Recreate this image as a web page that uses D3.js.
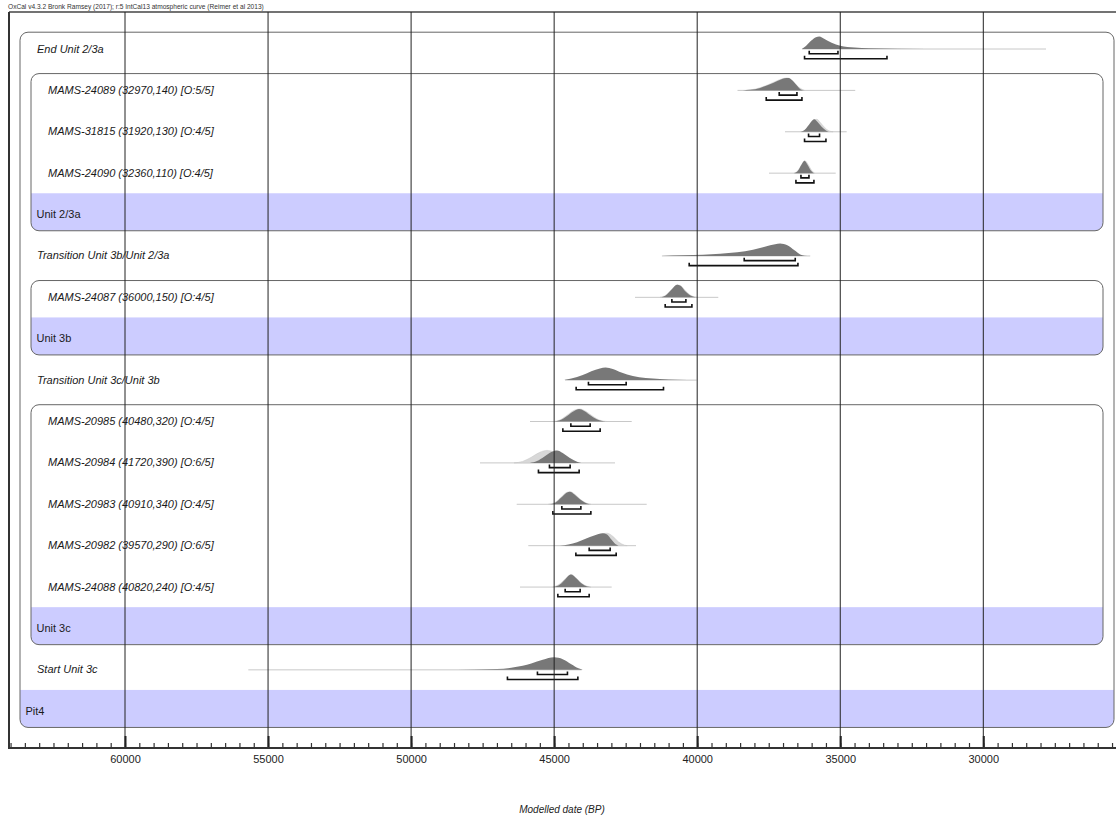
<!DOCTYPE html>
<html><head><meta charset="utf-8">
<script src="https://cdn.jsdelivr.net/npm/d3@7"></script>
<style>
html,body{margin:0;padding:0;background:#fff;}
svg{display:block;font-family:"Liberation Sans",Arial,sans-serif;}
</style></head><body>
<svg id="chart" width="1116" height="819"></svg>
<script>
// ---- model rows, top to bottom ----
const rowLabels = [
  "End Unit 2/3a",
  "MAMS-24089 (32970,140) [O:5/5]",
  "MAMS-31815 (31920,130) [O:4/5]",
  "MAMS-24090 (32360,110) [O:4/5]",
  "Unit 2/3a",
  "Transition Unit 3b/Unit 2/3a",
  "MAMS-24087 (36000,150) [O:4/5]",
  "Unit 3b",
  "Transition Unit 3c/Unit 3b",
  "MAMS-20985 (40480,320) [O:4/5]",
  "MAMS-20984 (41720,390) [O:6/5]",
  "MAMS-20983 (40910,340) [O:4/5]",
  "MAMS-20982 (39570,290) [O:6/5]",
  "MAMS-24088 (40820,240) [O:4/5]",
  "Unit 3c",
  "Start Unit 3c",
  "Pit4"
];
const rowKinds = ["boundary","date","date","date","phase","boundary","date","phase",
  "boundary","date","date","date","date","date","phase","boundary","sequence"];

// nested groups (sequence / phases): first and last row index
const groupNames = ["Pit4", "Unit 2/3a", "Unit 3b", "Unit 3c"];
const groupFirst = [0, 1, 6, 9];
const groupLast  = [16, 4, 7, 14];
const groupDepth = [0, 1, 1, 1];

// full extent of each distribution (cal BP)
const spans = [
  [36339, 27808], [38591, 34476], [36931, 34775], [37490, 35159], null,
  [41234, 36049], [42174, 39263], null,
  [44621, 40018], [45844, 42289], [47592, 42873], [46309, 41765], [45904, 42139], [46194, 42989], null,
  [55690, 44037], null
];

// 68.2% and 95.4% highest posterior density ranges (cal BP)
const ranges68 = [
  [36084, 35080], [37133, 36514], [36108, 35724], [36374, 36094], null,
  [38357, 36573], [40885, 40395], null,
  [43801, 42483], [44416, 43741], [45164, 44441], [44731, 44066], [43776, 43042], [44615, 44091], null,
  [45584, 44535], null
];
const ranges95 = [
  [36248, 33367], [37587, 36339], [36248, 35500], [36549, 35920], null,
  [40280, 36479], [41119, 40185], null,
  [44231, 41178], [44696, 43392], [45549, 44126], [45045, 43717], [44241, 42832], [44871, 43776], null,
  [46633, 44171], null
];

// modelled (posterior) densities: [cal BP, relative density]
const posteriors = [
  [[36339,0],[36200,0.25],[36000,0.7],[35850,0.95],[35734,1],[35550,0.8],[35300,0.5],[35000,0.27],[34500,0.12],[34000,0.06],[33000,0.03],[31000,0.01],[27808,0]],
  [[38400,0],[38150,0.05],[37800,0.2],[37500,0.45],[37200,0.75],[36950,0.97],[36808,1],[36650,0.75],[36500,0.35],[36380,0.08],[36250,0]],
  [[36400,0],[36250,0.15],[36100,0.55],[35950,0.97],[35900,1],[35800,0.8],[35650,0.4],[35500,0.1],[35400,0]],
  [[36600,0],[36480,0.2],[36350,0.7],[36250,1],[36150,0.7],[36020,0.2],[35920,0]],
  null,
  [[41230,0],[40500,0.05],[39800,0.1],[39200,0.18],[38600,0.3],[38050,0.5],[37700,0.7],[37450,0.85],[37100,1],[36850,0.85],[36600,0.45],[36400,0.12],[36250,0.02],[36050,0]],
  [[41250,0],[41100,0.15],[40900,0.6],[40700,1],[40600,0.95],[40400,0.45],[40200,0.1],[40050,0]],
  null,
  [[44650,0],[44400,0.12],[44000,0.4],[43700,0.7],[43400,0.93],[43200,1],[42950,0.88],[42650,0.6],[42250,0.32],[41800,0.17],[41300,0.09],[40700,0.03],[40000,0]],
  [[45000,0],[44800,0.1],[44550,0.45],[44300,0.85],[44130,1],[43950,0.85],[43700,0.45],[43450,0.12],[43200,0]],
  [[45850,0],[45600,0.15],[45350,0.5],[45100,0.88],[44900,1],[44700,0.8],[44450,0.4],[44200,0.1],[44050,0]],
  [[45150,0],[44950,0.15],[44750,0.55],[44550,0.95],[44450,1],[44300,0.8],[44100,0.4],[43900,0.1],[43750,0]],
  [[44800,0],[44500,0.1],[44200,0.28],[43900,0.55],[43600,0.82],[43300,1],[43150,0.9],[43000,0.5],[42850,0.12],[42750,0]],
  [[45000,0],[44800,0.2],[44600,0.65],[44420,1],[44250,0.75],[44050,0.3],[43850,0.05],[43750,0]],
  null,
  [[55690,0],[52000,0.005],[49000,0.01],[47800,0.03],[47000,0.07],[46500,0.17],[46100,0.32],[45800,0.5],[45400,0.8],[45000,1],[44700,0.85],[44400,0.45],[44150,0.12],[44000,0]],
  null
];

// unmodelled (calibrated date) densities: [cal BP, relative density]
const likelihoods = [
  null,
  [[38300,0],[37950,0.12],[37600,0.38],[37300,0.68],[37000,0.95],[36850,1],[36650,0.7],[36450,0.25],[36250,0]],
  [[36350,0],[36200,0.15],[36050,0.5],[35900,0.95],[35820,1],[35700,0.75],[35550,0.35],[35400,0.08],[35250,0]],
  [[36620,0],[36480,0.2],[36350,0.68],[36240,1],[36130,0.72],[36000,0.22],[35900,0]],
  null, null,
  [[41300,0],[41100,0.17],[40900,0.62],[40700,1],[40580,0.93],[40380,0.45],[40180,0.1],[40000,0]],
  null, null,
  [[45050,0],[44800,0.12],[44550,0.5],[44300,0.9],[44100,1],[43900,0.82],[43650,0.42],[43400,0.1],[43150,0]],
  [[46400,0],[46100,0.12],[45800,0.45],[45500,0.85],[45250,1],[45000,0.85],[44750,0.45],[44500,0.12],[44250,0]],
  [[45200,0],[44950,0.17],[44750,0.58],[44550,0.96],[44430,1],[44280,0.8],[44080,0.38],[43880,0.1],[43720,0]],
  [[44600,0],[44200,0.15],[43800,0.5],[43450,0.85],[43150,1],[42950,0.75],[42750,0.3],[42550,0.05],[42450,0]],
  [[45050,0],[44820,0.22],[44600,0.68],[44400,1],[44230,0.72],[44030,0.28],[43830,0.05],[43720,0]],
  null, null, null
];

// axis ticks
const majorTicks = [60000, 55000, 50000, 45000, 40000, 35000, 30000];
const minorStep = 500;

const headerText = "OxCal v4.3.2 Bronk Ramsey (2017); r:5 IntCal13 atmospheric curve (Reimer et al 2013)";
const axisTitle = "Modelled date (BP)";

// ---- layout ----
const W = 1116, H = 819;
const frameLeft = 9, frameTop = 12, axisY = 748;
const rowStart = 27.7, rowStep = 41.39, bandH = 37.5;
const peakH = 12.5;
const labelSize = 11;
const rowTop = i => rowStart + rowStep * i;

const svg = d3.select("#chart");
const x = d3.scaleLinear().domain([60000, 30000]).range([125, 983.3]);

// header
svg.append("text").attr("x", 8).attr("y", 8.5)
  .attr("font-size", 6.6).attr("fill", "#333").text(headerText);

// frame
svg.append("line").attr("x1", frameLeft).attr("x2", W).attr("y1", frameTop).attr("y2", frameTop)
  .attr("stroke", "#444").attr("stroke-width", 1.5);
svg.append("line").attr("x1", frameLeft).attr("x2", frameLeft).attr("y1", frameTop).attr("y2", axisY)
  .attr("stroke", "#333").attr("stroke-width", 2);

// group boxes with their bottom bands
const defs = svg.append("defs");
const boxLayer = svg.append("g");
groupNames.forEach((name, gi) => {
  const d = groupDepth[gi];
  const left = frameLeft + 11 * (d + 1);
  const right = 1125 - 11 * (d + 1);
  const top = rowTop(groupFirst[gi]) + 4.5;
  const bandTop = rowTop(groupLast[gi]);
  const bottom = bandTop + bandH;
  const id = "clip" + gi;
  defs.append("clipPath").attr("id", id).append("rect")
    .attr("x", left).attr("y", top).attr("width", right - left).attr("height", bottom - top)
    .attr("rx", 8).attr("ry", 8);
  const g = boxLayer.append("g");
  g.append("rect").attr("clip-path", `url(#${id})`)
    .attr("x", left).attr("y", bandTop).attr("width", right - left).attr("height", bandH)
    .attr("fill", "#ccccff");
  g.append("rect")
    .attr("x", left).attr("y", top).attr("width", right - left).attr("height", bottom - top)
    .attr("rx", 8).attr("ry", 8)
    .attr("fill", "none").attr("stroke", "#666").attr("stroke-width", 1);
  g.append("text")
    .attr("x", left + 5.5).attr("y", bandTop + 24.6)
    .attr("font-size", labelSize).attr("fill", "#1a1a1a").text(name);
});

// depth of each row = number of boxes it sits in
const rowDepth = rowLabels.map((_, i) =>
  groupNames.filter((_, gi) => i >= groupFirst[gi] && i <= groupLast[gi] && i !== groupLast[gi]).length);

// distributions
const distLayer = svg.append("g");
const area = base => d3.area()
  .x(p => x(p[0])).y0(base).y1(p => base - p[1] * peakH)
  .curve(d3.curveMonotoneX);

rowLabels.forEach((label, i) => {
  if (rowKinds[i] === "phase" || rowKinds[i] === "sequence") return;
  const y0 = rowTop(i);
  const base = y0 + 21.3;
  const g = distLayer.append("g");
  const sp = spans[i];
  g.append("line").attr("x1", x(sp[0])).attr("x2", x(sp[1])).attr("y1", base).attr("y2", base)
    .attr("stroke", "#c8c8c8").attr("stroke-width", 1);
  if (likelihoods[i]) {
    g.append("path").datum(likelihoods[i]).attr("d", area(base))
      .attr("fill", "#d8d8d8").attr("stroke", "#c4c4c4").attr("stroke-width", 0.5);
  }
  g.append("path").datum(posteriors[i]).attr("d", area(base))
    .attr("fill", "#787878").attr("stroke", "none");

  [[ranges68[i], base + 4.7], [ranges95[i], base + 9.7]].forEach(([r, yb]) => {
    const xa = x(r[0]), xb = x(r[1]);
    g.append("path")
      .attr("d", `M${xa},${yb - 3}V${yb}H${xb}V${yb - 3}`)
      .attr("fill", "none").attr("stroke", "#111").attr("stroke-width", 1.6);
  });

  g.append("text")
    .attr("x", frameLeft + 11 * rowDepth[i] + 17).attr("y", y0 + 24.8)
    .attr("font-size", labelSize).attr("font-style", "italic").attr("fill", "#1a1a1a")
    .text(label);
});

// vertical grid lines at major ticks
svg.append("g").selectAll("line").data(majorTicks).join("line")
  .attr("x1", d => x(d)).attr("x2", d => x(d))
  .attr("y1", frameTop).attr("y2", axisY)
  .attr("stroke", "#222").attr("stroke-width", 1);

// time axis
const xMin = x.invert(frameLeft + 1), xMax = x.invert(W);
const minorTicks = d3.range(Math.ceil(xMax / minorStep) * minorStep, xMin, minorStep);
const minorAxis = d3.axisBottom(x).tickValues(minorTicks).tickSize(-5).tickFormat("");
const majorAxis = d3.axisBottom(x).tickValues(majorTicks).tickSize(-12).tickPadding(7)
  .tickFormat(d3.format("d"));

const gMinor = svg.append("g").attr("transform", `translate(0,${axisY})`).call(minorAxis);
gMinor.select(".domain").remove();
gMinor.selectAll(".tick line").attr("stroke", "#333").attr("stroke-width", 1.2);

const gMajor = svg.append("g").attr("transform", `translate(0,${axisY})`).call(majorAxis);
gMajor.select(".domain").remove();
gMajor.selectAll(".tick line").attr("stroke", "#222").attr("stroke-width", 2);
gMajor.selectAll(".tick text")
  .attr("font-family", "Liberation Sans, Arial, sans-serif")
  .attr("font-size", 11).attr("fill", "#222");

svg.append("line").attr("x1", frameLeft - 1).attr("x2", W).attr("y1", axisY).attr("y2", axisY)
  .attr("stroke", "#333").attr("stroke-width", 2);

svg.append("text").attr("x", 562).attr("y", 813).attr("text-anchor", "middle")
  .attr("font-size", 10).attr("font-style", "italic").attr("fill", "#222")
  .text(axisTitle);
</script>
</body></html>
